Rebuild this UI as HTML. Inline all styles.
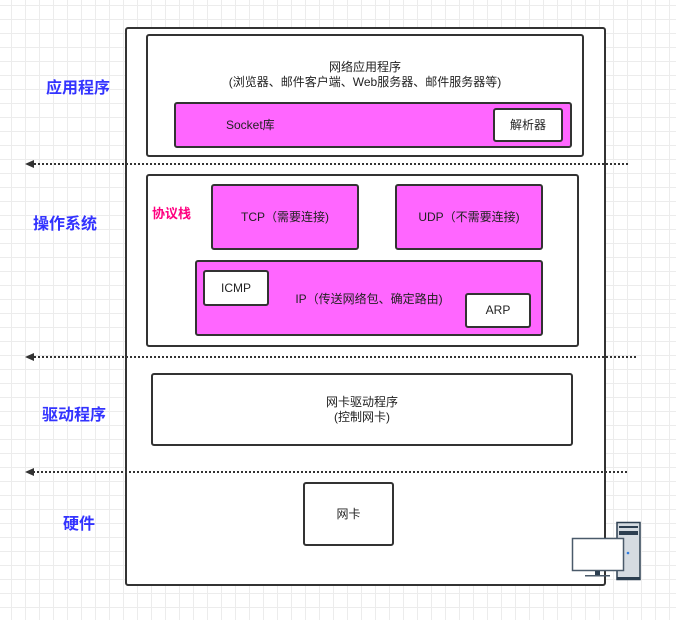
<!DOCTYPE html>
<html><head><meta charset="utf-8"><style>
body{margin:0;width:676px;height:620px;position:relative;overflow:hidden;font-family:"Liberation Sans","Noto Sans CJK SC",sans-serif;
background-color:#fff;background-image:linear-gradient(#ececec 1px,transparent 1px),linear-gradient(90deg,#ececec 1px,transparent 1px);background-size:14px 14px;background-position:-3px 5px}
.b{position:absolute;box-sizing:border-box;border:2px solid #333;border-radius:3px;background:#fff;display:flex;align-items:center;justify-content:center;text-align:center;font-size:12px;color:#222;line-height:15px}
.m{background:#ff66ff}
.l{position:absolute;font-weight:bold;font-size:16px;color:#3333ff}
.d{position:absolute;height:0;border-top:2px dotted #333}
.a{position:absolute;width:0;height:0;border-top:4px solid transparent;border-bottom:4px solid transparent;border-right:9px solid #333}
</style></head><body>
<div class="b" style="left:125px;top:27px;width:481px;height:559px"></div>
<div class="b" style="left:146px;top:34px;width:438px;height:123px;align-items:flex-start;padding-top:24px">网络应用程序<br>(浏览器、邮件客户端、Web服务器、邮件服务器等)</div>
<div class="b m" style="left:174px;top:102px;width:398px;height:46px;justify-content:flex-start;padding-left:50px">Socket库</div>
<div class="b" style="left:493px;top:108px;width:70px;height:34px">解析器</div>
<div class="d" style="left:30px;top:163px;width:598px"></div><div class="a" style="left:25px;top:160px"></div>
<div class="b" style="left:146px;top:174px;width:433px;height:173px"></div>
<div style="position:absolute;left:152px;top:203px;font-size:13px;font-weight:bold;color:#ff0080">协议栈</div>
<div class="b m" style="left:211px;top:184px;width:148px;height:66px">TCP（需要连接)</div>
<div class="b m" style="left:395px;top:184px;width:148px;height:66px">UDP（不需要连接)</div>
<div class="b m" style="left:195px;top:260px;width:348px;height:76px;padding-top:2px">IP（传送网络包、确定路由)</div>
<div class="b" style="left:203px;top:270px;width:66px;height:36px">ICMP</div>
<div class="b" style="left:465px;top:293px;width:66px;height:35px">ARP</div>
<div class="d" style="left:30px;top:356px;width:606px"></div><div class="a" style="left:25px;top:353px"></div>
<div class="b" style="left:151px;top:373px;width:422px;height:73px">网卡驱动程序<br>(控制网卡)</div>
<div class="d" style="left:30px;top:471px;width:597px"></div><div class="a" style="left:25px;top:468px"></div>
<div class="b" style="left:303px;top:482px;width:91px;height:64px">网卡</div>
<div class="l" style="left:46px;top:74px">应用程序</div>
<div class="l" style="left:33px;top:210px">操作系统</div>
<div class="l" style="left:42px;top:401px">驱动程序</div>
<div class="l" style="left:63px;top:510px">硬件</div>
<svg style="position:absolute;left:570px;top:520px" width="76" height="62">
<rect x="47" y="2.5" width="23" height="57" fill="#d5dbe1" stroke="#2c3e50" stroke-width="1.5"/>
<rect x="49" y="6" width="19" height="2" fill="#2c3e50"/><rect x="49" y="11" width="19" height="4" fill="#2c3e50"/>
<circle cx="58" cy="33" r="1.3" fill="#2f7de1"/><rect x="47" y="57" width="23" height="3" fill="#2c3e50"/>
<rect x="2.5" y="18.5" width="51" height="32" fill="#fff" stroke="#4a5a6a" stroke-width="1.5"/>
<rect x="25" y="51" width="5" height="4" fill="#2c3e50"/><rect x="15" y="55" width="25" height="1.5" fill="#4a5a6a"/>
</svg>
</body></html>
